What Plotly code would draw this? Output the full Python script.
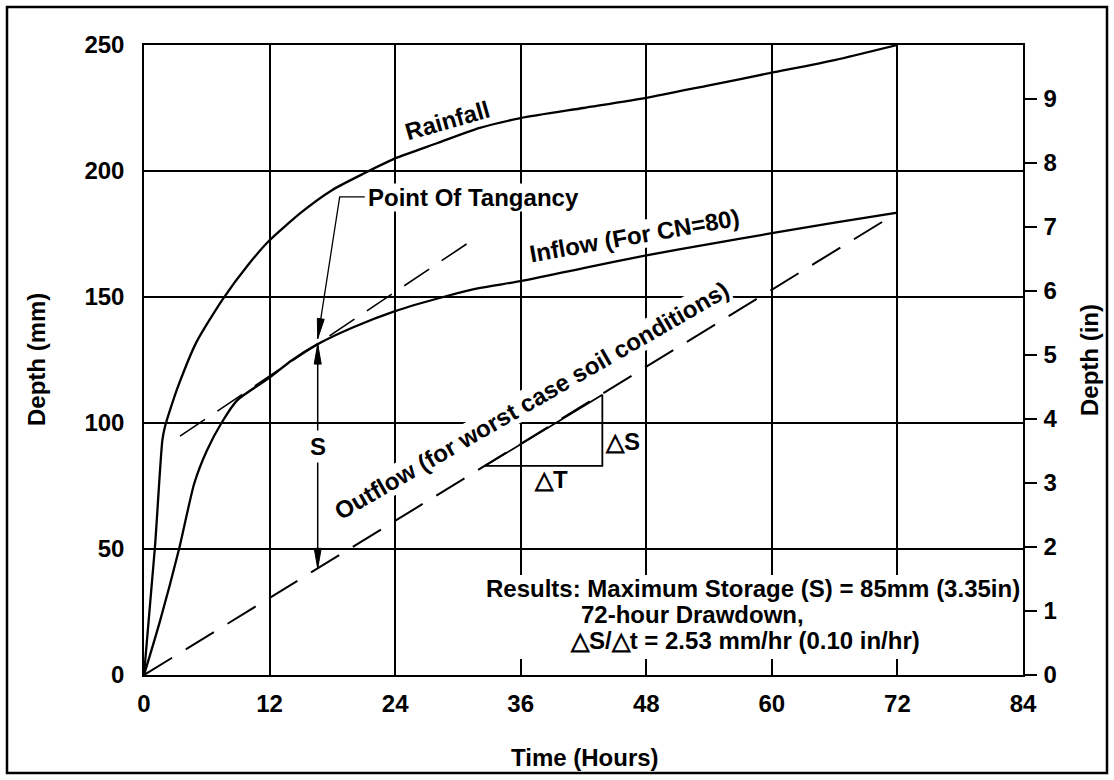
import numpy as np
import plotly.graph_objects as go

# ---- data (hours, mm) ----
rain_hours = [0, 1.05, 1.75, 2.0, 2.4, 3.3, 5.0, 7.5, 10, 12, 15, 18, 21, 24, 28, 32, 36, 42, 48, 54, 60, 66, 72]
rain_mm = [0, 51, 93, 98.5, 104, 115, 132, 149, 163, 172.5, 183.5, 192.5, 199, 205, 211, 217, 221, 225, 229, 234, 239, 244, 250]

inflow_hours = [0, 1.5, 3.35, 4.8, 6, 7.4, 8.9, 12, 14, 16.6, 20, 24, 28.6, 32, 36, 42, 48, 54, 60, 66, 72]
inflow_mm = [0, 21, 50, 76, 89, 100, 109, 118, 124.5, 131.3, 138, 144.4, 150, 153.5, 156.3, 161.5, 166.5, 171, 175.3, 179.5, 183.5]

outflow_hours = [0, 72]
outflow_mm = [0, 183.5]

tangent_hours = [3.44, 31.1]
tangent_mm = [94.8, 171.8]

slope_tri_hours = [32.6, 43.8, 43.8, 32.6]
slope_tri_mm = [83.0, 83.0, 111.2, 83.0]

tangency_hour = 16.6
leader_hours = [21.1, 18.7]
leader_mm = [189.7, 189.7]

x_ticks = [0, 12, 24, 36, 48, 60, 72, 84]
mm_ticks = [0, 50, 100, 150, 200, 250]
in_ticks = [0, 1, 2, 3, 4, 5, 6, 7, 8, 9]
MM_PER_IN = 25.4

results_lines = [
    "Results: Maximum Storage (S) = 85mm (3.35in)",
    "72-hour Drawdown,",
    "\u25b3S/\u25b3t = 2.53 mm/hr (0.10 in/hr)",
]

# ---- page geometry ----
W, H = 1114, 780
ML, MR, MT, MB = 144, 91, 45, 105
PW, PH = W - ML - MR, H - MT - MB
X_MAX, Y_MAX = 84, 250
HPP = X_MAX / PW   # hours per pixel
MPP = Y_MAX / PH   # mm per pixel

FONT = "Liberation Sans, Arial, sans-serif"
BOLD = dict(family=FONT, size=24, color="black", weight="bold")

tan_mm = float(np.interp(tangency_hour, inflow_hours, inflow_mm))
tan_out = float(np.interp(tangency_hour, outflow_hours, outflow_mm))


def arrow_head(tip_h, tip_mm, from_h, from_mm, length=20, half=3.5):
    # slim filled arrow head, built in pixel space, returned in data space
    dx = (tip_h - from_h) / HPP
    dy = -(tip_mm - from_mm) / MPP
    n = np.hypot(dx, dy)
    ux, uy = dx / n, dy / n
    bx, by = -ux * length, -uy * length
    pts = [(0, 0), (bx - uy * half, by + ux * half), (bx + uy * half, by - ux * half)]
    path = "M " + " L ".join(f"{tip_h + px * HPP},{tip_mm - py * MPP}" for px, py in pts) + " Z"
    return dict(type="path", path=path, xref="x", yref="y",
                fillcolor="black", line=dict(color="black", width=1), layer="above")


fig = go.Figure()

line_style = dict(color="black", width=2.3, shape="spline", smoothing=0.6)
fig.add_trace(go.Scatter(x=rain_hours, y=rain_mm, mode="lines", line=line_style, hoverinfo="skip"))
fig.add_trace(go.Scatter(x=inflow_hours, y=inflow_mm, mode="lines", line=line_style, hoverinfo="skip"))
fig.add_trace(go.Scatter(x=outflow_hours, y=outflow_mm, mode="lines",
                         line=dict(color="black", width=2, dash="33px,16px"), hoverinfo="skip"))
fig.add_trace(go.Scatter(x=tangent_hours, y=tangent_mm, mode="lines",
                         line=dict(color="black", width=1.6, dash="30px,15px"), hoverinfo="skip"))
fig.add_trace(go.Scatter(x=slope_tri_hours, y=slope_tri_mm, mode="lines",
                         line=dict(color="black", width=1.8), hoverinfo="skip"))
# leader for "Point Of Tangancy"
fig.add_trace(go.Scatter(x=leader_hours + [tangency_hour], y=leader_mm + [tan_mm + 2.2], mode="lines",
                         line=dict(color="black", width=1.3), hoverinfo="skip"))
# storage dimension S
fig.add_trace(go.Scatter(x=[tangency_hour, tangency_hour], y=[tan_mm, tan_out], mode="lines",
                         line=dict(color="black", width=1.5), hoverinfo="skip"))
# invisible trace for the inch axis
fig.add_trace(go.Scatter(x=outflow_hours, y=[v / MM_PER_IN for v in outflow_mm], yaxis="y2",
                         mode="lines", line=dict(width=0), opacity=0, hoverinfo="skip"))

shapes = [
    arrow_head(tangency_hour, tan_mm + 2.2, leader_hours[1], leader_mm[1]),
    arrow_head(tangency_hour, tan_mm, tangency_hour, tan_mm - 30),
    arrow_head(tangency_hour, tan_out, tangency_hour, tan_out + 30),
    # white box behind the results text (breaks the grid like the original)
    dict(type="rect", xref="x", yref="y", x0=32.1, x1=83.8, y0=6.3, y1=39.7,
         fillcolor="white", line=dict(width=0), layer="between"),
    # outer frame
    dict(type="rect", xref="paper", yref="paper",
         x0=(7 - ML) / PW, x1=(1107 - ML) / PW, y0=(MT + PH - 773) / PH, y1=(MT + PH - 7) / PH,
         line=dict(color="black", width=2.5), fillcolor="rgba(0,0,0,0)", layer="above"),
]

ann = []
ann.append(dict(x=28.96, y=220.2, text="Rainfall", textangle=-16, showarrow=False, font=BOLD))
ann.append(dict(x=21.3, y=189.3, text="Point Of Tangancy", xanchor="left", showarrow=False,
                font=BOLD, bgcolor="white", borderpad=0))
ann.append(dict(x=46.9, y=174.6, text="Inflow (For CN=80)", textangle=-10, showarrow=False,
                font=BOLD, bgcolor="white", borderpad=0))
ann.append(dict(x=37.0, y=109.1, text="Outflow (for worst case soil conditions)", textangle=-30,
                showarrow=False, font=BOLD, bgcolor="white", borderpad=0))
ann.append(dict(x=tangency_hour, y=90.5, text="S", showarrow=False, font=BOLD, bgcolor="white", borderpad=2))
ann.append(dict(x=45.7, y=92.5, text="\u25b3S", showarrow=False, font=BOLD))
ann.append(dict(x=38.9, y=77.4, text="\u25b3T", showarrow=False, font=BOLD))
for text, xh, ym in zip(results_lines, [32.5, 41.6, 40.5], [34.3, 24.0, 13.8]):
    ann.append(dict(x=xh, y=ym, text=text, xanchor="left", showarrow=False, font=BOLD))

# axis titles
title_kw = dict(xref="paper", yref="paper", xanchor="center", yanchor="middle", showarrow=False, font=BOLD)
ann.append(dict(x=(36 - ML) / PW, y=0.5, text="Depth (mm)", textangle=-90, **title_kw))
ann.append(dict(x=(1089 - ML) / PW, y=0.5, text="Depth (in)", textangle=-90, **title_kw))
ann.append(dict(x=(585 - ML) / PW, y=(MT + PH - 757) / PH, text="Time (Hours)", **title_kw))

axis_common = dict(showline=True, linecolor="black", linewidth=1.5, mirror=True,
                   showgrid=True, gridcolor="black", gridwidth=1.5, zeroline=False,
                   tickfont=BOLD, fixedrange=True, ticks="")

fig.update_layout(
    width=W, height=H,
    margin=dict(l=ML, r=MR, t=MT, b=MB, autoexpand=False),
    paper_bgcolor="white", plot_bgcolor="white",
    showlegend=False,
    font=dict(family=FONT, color="black"),
    xaxis=dict(range=[0, X_MAX], tickvals=x_ticks, ticklabelstandoff=6, **axis_common),
    yaxis=dict(range=[0, Y_MAX], tickvals=mm_ticks, ticklabelstandoff=13, **axis_common),
    yaxis2=dict(range=[0, Y_MAX / MM_PER_IN], tickvals=in_ticks, overlaying="y", side="right",
                showline=True, linecolor="black", linewidth=1.5, showgrid=False, zeroline=False,
                ticks="outside", ticklen=12, tickwidth=1.5, tickcolor="black",
                ticklabelstandoff=2, tickfont=BOLD, fixedrange=True),
    shapes=shapes,
    annotations=ann,
)

fig.write_html("out.html", config={"displayModeBar": False},
               post_script="document.body.style.margin='0px';")
